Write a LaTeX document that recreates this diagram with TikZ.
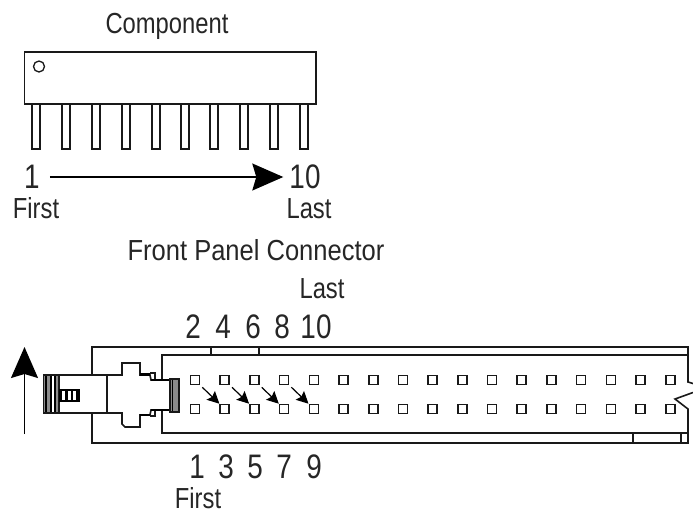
\documentclass[tikz,border=0pt]{standalone}
\usepackage{fontspec}
\newfontfamily\lab[FakeStretch=0.82]{Liberation Sans}
\newfontfamily\labw[FakeStretch=0.88]{Liberation Sans}
\usetikzlibrary{arrows.meta,calc}
\tikzset{
  ln/.style={line width=1.6pt,black!90},
  thin line/.style={line width=1.4pt,black!90},
  lbl/.style={font=\lab\fontsize{29}{29}\selectfont,inner sep=0pt,text=black!85,anchor=base},
  widelbl/.style={font=\labw\fontsize{29}{29}\selectfont,inner sep=0pt,text=black!85,anchor=base},
  digit/.style={font=\lab\fontsize{34}{34}\selectfont,inner sep=0pt,text=black!85},
  hole/.style={draw=black!90,line width=1.6pt,minimum size=9pt,inner sep=0pt,fill=white},
  pin/.style={draw=black!90,line width=1.5pt,fill=white},
  bigarrow/.style={line width=1.4pt,black,-{Stealth[length=31pt,width=27pt,inset=4pt]}},
  hitarrow/.style={line width=1.2pt,black,-{Stealth[length=12pt,width=12pt,inset=2pt]}},
}
\begin{document}
\begin{tikzpicture}[x=1pt,y=-1pt]
\useasboundingbox (0,0) rectangle (693,512);
\fill[white] (0,0) rectangle (693,512);
% component
\node[lbl] (comp) at (167,33) {Component};
\foreach \x in {36,66,96,126,156,185,214,244,274,304}
  \draw[pin] (\x-4,104) rectangle (\x+4,149);
\draw[ln,fill=white] (24.5,52) rectangle (316,104);
\draw[line width=1.3pt,black!90] (39,66.5) circle (5.5);
\node[digit] (one) at (32,177) {1};
\node[digit] (ten) at (305,177) {10};
\node[lbl] (first) at (36,218) {First};
\node[lbl] (last) at (309,218) {Last};
\draw[bigarrow,shorten >=6pt] ($(one.east)+(10,0)$) -- (ten.west);
% connector labels
\node[widelbl] (fp) at (256,260) {Front Panel Connector};
\node[lbl] (last2) at (322,298) {Last};
\foreach \t/\x in {2/193,4/223,6/253,8/282,10/316}
  \node[digit] at (\x,327) {\t};
\foreach \t/\x in {1/197,3/226,5/255,7/284,9/314}
  \node[digit] at (\x,467) {\t};
\node[lbl] (first2) at (198,508) {First};
% housing
\draw[ln] (92,375) -- (92,347) -- (688,347) -- (688,382) -- (693,383.5);
\draw[ln] (92,413) -- (92,443) -- (688,443) -- (688,409) -- (675,399) -- (693,392.5);
\draw[ln] (162,380) -- (162,355) -- (688,355);
\draw[ln] (162,410) -- (162,433) -- (688,433);
\foreach \x in {211,259} \draw[thin line] (\x,347) -- (\x,355);
\foreach \x in {633,681} \draw[ln] (\x,433) -- (\x,443);
% holes
\foreach \i in {0,...,16}{
  \pgfmathsetmacro{\hx}{195+29.7*\i}
  \node[hole] (t\i) at (\hx,380) {};
  \node[hole] (b\i) at (\hx,409) {};
}
\foreach \i/\j in {0/1,1/2,2/3,3/4}
  \draw[hitarrow] ($(t\i.south east)+(2,2)$) -- (b\j.north west);
% plug
\draw[ln,fill=white] (43.5,375) rectangle (107,413);
\fill[black!45] (43.5,375) rectangle (59,413);
\foreach \a/\b in {45/46.5,49.5/51.5,53.5/55.5}\fill[black] (\a,375) rectangle (\b,413);
\fill[white] (51.5,375) rectangle (53.5,413);
\draw[ln] (43.5,375) -- (59,375) (43.5,413) -- (59,413) (59,375) -- (59,413);
\fill[black] (59,389) rectangle (80,402);
\foreach \x in {61.5,67.5,73}\fill[white] (\x,391) rectangle (\x+3,400);
% plug nose and tabs
\draw[ln,fill=white] (107,375) -- (122,375) -- (122,363) -- (140,363) -- (140,375) -- (150,375)
  -- (151,380) -- (172,380) -- (172,410) -- (151,410) -- (150,415) -- (140,415) -- (140,427)
  -- (125,427) -- (122,424) -- (122,413) -- (107,413) -- cycle;
\draw[line width=1.4pt,black!90] (150,373) -- (155,373) -- (155,380) (150,416) -- (155,416) -- (155,410);
\draw[line width=2.6pt,black] (140,374.5) -- (150,374.5) (151,380) -- (172,380) (151,410) -- (172,410) (140,415) -- (150,415);
\fill[black!45] (170,379) rectangle (179,412);
\draw[line width=1.3pt,black] (172.5,379) -- (172.5,412);
\draw[ln] (170,379) rectangle (179,412);
% direction arrow
\coordinate (ua) at (24.5,434);
\coordinate (ub) at (24.5,347);
\draw[bigarrow] (ua) -- (ub);
\end{tikzpicture}
\end{document}
